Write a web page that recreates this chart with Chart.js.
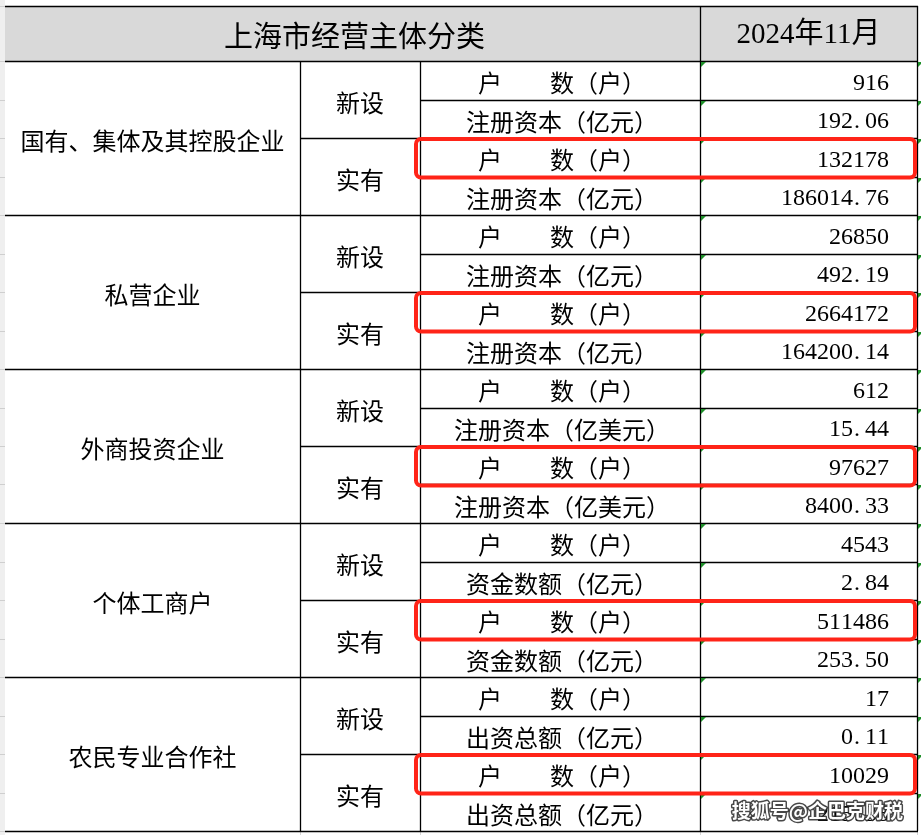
<!DOCTYPE html>
<html>
<head>
<meta charset="utf-8">
<script src="https://cdn.jsdelivr.net/npm/chart.js@4.4.1/dist/chart.umd.min.js"></script>
<style>
  html, body { margin: 0; padding: 0; background: #ffffff; }
  #wrap { width: 921px; height: 835px; }
</style>
</head>
<body>
<div id="wrap"><canvas id="c" width="921" height="835"></canvas></div>
<script>
// ---------------- DATA ----------------
const headerLabels = ['上海市经营主体分类', '2024年11月'];
const categories = ['国有、集体及其控股企业', '私营企业', '外商投资企业', '个体工商户', '农民专业合作社'];
const statusLabels = ['新设', '实有'];
const countLabel = '户\u3000\u3000数（户）';
const capitalLabels = ['注册资本（亿元）', '注册资本（亿元）', '注册资本（亿美元）', '资金数额（亿元）', '出资总额（亿元）'];
const newCounts = [916, 26850, 612, 4543, 17];
const newCapital = [192.06, 492.19, 15.44, 2.84, 0.11];
const existingCounts = [132178, 2664172, 97627, 511486, 10029];
const existingCapital = [186014.76, 164200.14, 8400.33, 253.50, 215.38]; // last value hidden under watermark (estimate)
const watermark = '搜狐号@企巴克财税';

// ---------------- TABLE ROWS (built from data) ----------------
const rows = [];
categories.forEach((cat, ci) => {
  rows.push({ cat: ci, status: 0, label: countLabel, text: String(newCounts[ci]), highlight: false });
  rows.push({ cat: ci, status: 0, label: capitalLabels[ci], text: newCapital[ci].toFixed(2), highlight: false });
  rows.push({ cat: ci, status: 1, label: countLabel, text: String(existingCounts[ci]), highlight: true });
  rows.push({ cat: ci, status: 1, label: capitalLabels[ci], text: existingCapital[ci].toFixed(2), highlight: false });
});
const rowKeys = rows.map((r, i) => 'r' + i);

// layout (x-axis units) for column edges
const colEdges = [0, 295, 415, 695, 912];

const CJK = '"Noto Sans CJK SC", "Noto Sans", sans-serif';
const SERIF = '"Liberation Serif", "Noto Sans CJK SC", serif';

function monoText(ctx, str, rightX, cy, cell) {
  const n = str.length;
  for (let i = 0; i < n; i++) {
    const ch = str[i];
    const cellLeft = rightX - (n - i) * cell;
    if (ch === '.') {
      ctx.textAlign = 'left';
      ctx.fillText(ch, cellLeft + 1, cy);
    } else {
      ctx.textAlign = 'center';
      ctx.fillText(ch, cellLeft + cell / 2, cy);
    }
  }
}

const tablePlugin = {
  id: 'tablePlugin',
  beforeDraw(chart) {
    const ctx = chart.ctx;
    ctx.save();
    ctx.fillStyle = '#ffffff';
    ctx.fillRect(0, 0, chart.width, chart.height);
    ctx.restore();
  },
  afterDraw(chart) {
    const ctx = chart.ctx;
    const xs = chart.scales.x, ys = chart.scales.y;
    const X = colEdges.map(v => xs.getPixelForValue(v));
    const n = rows.length;
    const band = (ys.bottom - ys.top) / n;
    const rowTop = i => ys.getPixelForValue(i) - band / 2;
    const rowBot = i => ys.getPixelForValue(i) + band / 2;
    const top = ys.top, bottom = ys.bottom;
    const headTop = 6;
    const crisp = v => Math.round(v) + 0.5;

    ctx.save();
    // left row-header strip
    ctx.fillStyle = '#efefef';
    ctx.fillRect(0, 0, X[0], chart.height);
    ctx.strokeStyle = '#cfcfcf';
    ctx.lineWidth = 1;
    for (let i = 0; i <= n; i++) {
      const y = crisp(i < n ? rowTop(i) : bottom);
      ctx.beginPath(); ctx.moveTo(0, y); ctx.lineTo(X[0], y); ctx.stroke();
    }
    ctx.beginPath(); ctx.moveTo(0, crisp(headTop)); ctx.lineTo(X[0], crisp(headTop)); ctx.stroke();

    // header background
    ctx.fillStyle = '#d9d9d9';
    ctx.fillRect(X[0], headTop, X[4] - X[0], top - headTop);

    // faint gridlines below table
    ctx.strokeStyle = '#d4d4d4';
    [X[1], X[2], X[3], X[4]].forEach(x => {
      ctx.beginPath(); ctx.moveTo(crisp(x), bottom); ctx.lineTo(crisp(x), chart.height); ctx.stroke();
    });

    // grid lines
    ctx.strokeStyle = '#000000';
    ctx.lineWidth = 1.3;
    const hline = (x0, x1, y) => { ctx.beginPath(); ctx.moveTo(x0, crisp(y)); ctx.lineTo(x1, crisp(y)); ctx.stroke(); };
    const vline = (x, y0, y1) => { ctx.beginPath(); ctx.moveTo(crisp(x), y0); ctx.lineTo(crisp(x), y1); ctx.stroke(); };
    hline(X[0], X[4] + 1, headTop);
    hline(X[0], X[4] + 1, top);
    for (let i = 1; i < n; i++) {
      const y = rowTop(i);
      if (i % 4 === 0) hline(X[0], X[4], y);
      else if (i % 2 === 0) hline(X[1], X[4], y);
      else hline(X[2], X[4], y);
    }
    hline(X[0], X[4] + 1, bottom);
    vline(X[1], top, bottom);
    vline(X[2], top, bottom);
    vline(X[3], headTop, bottom);
    vline(X[4], headTop, bottom);

    // green markers
    ctx.fillStyle = '#1f8f2a';
    for (let i = 0; i < n; i++) {
      const y = Math.round(rowTop(i)) + 1;
      [X[3], X[4]].forEach(x0 => {
        const x = Math.round(x0) + 1;
        ctx.beginPath(); ctx.moveTo(x, y); ctx.lineTo(x + 5, y); ctx.lineTo(x, y + 5); ctx.closePath(); ctx.fill();
      });
    }

    // header text
    ctx.fillStyle = '#000000';
    ctx.textBaseline = 'middle';
    ctx.textAlign = 'center';
    ctx.font = '29px ' + CJK;
    ctx.fillText(headerLabels[0], (X[0] + X[3]) / 2 + 2, (headTop + top) / 2 + 2);
    ctx.font = '29px ' + SERIF;
    ctx.fillText(headerLabels[1], (X[3] + X[4]) / 2, (headTop + top) / 2 + 2);

    // body text
    const dy = 3;
    ctx.font = '24px ' + CJK;
    categories.forEach((cat, ci) => {
      const yc = (rowTop(ci * 4) + rowBot(ci * 4 + 3)) / 2;
      ctx.textAlign = 'center';
      ctx.fillText(cat, (X[0] + X[1]) / 2, yc + dy);
      for (let s = 0; s < 2; s++) {
        const y2 = (rowTop(ci * 4 + s * 2) + rowBot(ci * 4 + s * 2 + 1)) / 2;
        ctx.fillText(statusLabels[s], (X[1] + X[2]) / 2, y2 + dy);
      }
    });
    rows.forEach((r, i) => {
      const yc = ys.getPixelForValue(i) + dy;
      ctx.font = '24px ' + CJK;
      ctx.textAlign = 'center';
      ctx.fillText(r.label, (X[2] + X[3]) / 2 + 2, yc);
      ctx.font = '24px ' + SERIF;
      monoText(ctx, r.text, X[4] - 28, yc, 12);
    });

    // red highlight boxes
    ctx.strokeStyle = '#ff2418';
    ctx.lineWidth = 4;
    rows.forEach((r, i) => {
      if (!r.highlight) return;
      const x0 = X[2] - 4, x1 = X[4] - 2;
      const y0 = rowTop(i) + 1, y1 = rowBot(i) + 1;
      ctx.beginPath();
      ctx.roundRect(x0, y0, x1 - x0, y1 - y0, 5);
      ctx.stroke();
    });

    // watermark
    ctx.font = 'bold 19px ' + CJK;
    ctx.textAlign = 'right';
    ctx.lineJoin = 'round';
    ctx.lineWidth = 3;
    ctx.strokeStyle = 'rgba(40,40,40,0.85)';
    const wy = bottom - band / 2 - 1;
    ctx.strokeText(watermark, X[4] - 14, wy);
    ctx.fillStyle = '#ffffff';
    ctx.fillText(watermark, X[4] - 14, wy);
    ctx.restore();
  }
};

new Chart(document.getElementById('c'), {
  type: 'scatter',
  data: {
    datasets: [{
      data: rows.map((r, i) => ({ x: 0, y: rowKeys[i] })),
      pointRadius: 0,
      showLine: false
    }]
  },
  options: {
    responsive: false,
    devicePixelRatio: 1,
    animation: false,
    layout: { padding: { top: 61, bottom: 4, left: 5, right: 4 } },
    plugins: { legend: { display: false }, tooltip: { enabled: false } },
    scales: {
      x: { type: 'linear', min: colEdges[0], max: colEdges[colEdges.length - 1], display: false },
      y: { type: 'category', labels: rowKeys, offset: true, display: false }
    }
  },
  plugins: [tablePlugin]
});
</script>
</body>
</html>
